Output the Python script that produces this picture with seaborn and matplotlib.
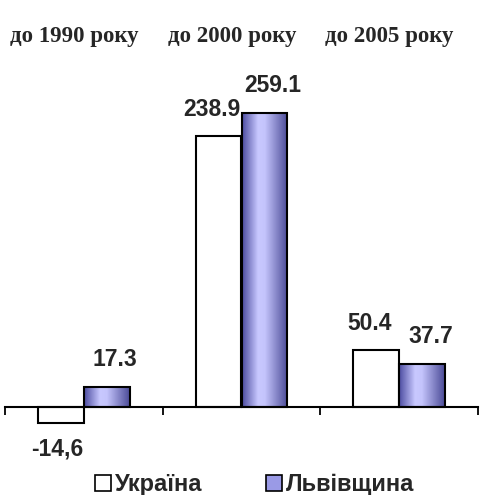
import matplotlib
matplotlib.use('Agg')
import matplotlib.pyplot as plt
import matplotlib.transforms as mtransforms
from matplotlib.patches import Patch
from matplotlib.colors import LinearSegmentedColormap
import seaborn as sns
import numpy as np
import pandas as pd

# === DATA ===
categories = ['до 1990 року', 'до 2000 року', 'до 2005 року']
series_names = ['Україна', 'Львівщина']
ukraine = [-14.6, 238.9, 50.4]
lviv = [17.3, 259.1, 37.7]
ukraine_labels = ['-14,6', '238.9', '50.4']
lviv_labels = ['17.3', '259.1', '37.7']

df = pd.DataFrame({
    'cat': categories * 2,
    'series': [series_names[0]] * 3 + [series_names[1]] * 3,
    'value': ukraine + lviv,
})

sns.set_style('white')
plt.rcParams['font.family'] = ['Liberation Sans', 'DejaVu Sans']

fig = plt.figure(figsize=(4.8, 4.95), dpi=100)
ax = fig.add_axes([5 / 480, 0.1097, 473 / 480, 0.7099])

sns.barplot(data=df, x='cat', y='value', hue='series', order=categories,
            hue_order=series_names, palette=['white', '#9a9ae6'],
            width=0.58, gap=0, edgecolor='black', linewidth=1.5,
            legend=False, ax=ax)

# gradient fill for the second series
grad_cmap = LinearSegmentedColormap.from_list(
    'lv', [(0.0, '#4c4ca0'), (0.35, '#c8c8ff'), (0.5, '#c4c4fc'), (1.0, '#4a4a96')])
grad = np.linspace(0, 1, 256).reshape(1, -1)
patches = ax.patches
for p in patches[3:6]:
    x0, y0 = p.get_x(), p.get_y()
    w, h = p.get_width(), p.get_height()
    im = ax.imshow(grad, cmap=grad_cmap, aspect='auto', zorder=2,
                   extent=[x0, x0 + w, min(y0, y0 + h), max(y0, y0 + h)])
    im.set_clip_path(p)
    p.set_facecolor('none')
    p.set_zorder(3)
ax.set_xlim(-0.5, 2.5)
ax.set_ylim(-30, 280)

# value labels
for p, txt, val in zip(patches[:3], ukraine_labels, ukraine):
    cx = p.get_x() + p.get_width() / 2
    if val < 0:
        ax.annotate(txt, (cx, val), xytext=(-3, -10), textcoords='offset points',
                    ha='center', va='top', fontsize=16.5, fontweight='bold')
    else:
        ax.annotate(txt, (cx, val), xytext=(-5, 14), textcoords='offset points',
                    ha='center', va='baseline', fontsize=16.5, fontweight='bold')
for p, txt, val in zip(patches[3:6], lviv_labels, lviv):
    cx = p.get_x() + p.get_width() / 2
    ax.annotate(txt, (cx, val), xytext=(6, 15), textcoords='offset points',
                ha='center', va='baseline', fontsize=16.5, fontweight='bold')

# axis styling
for s in ['top', 'right', 'left']:
    ax.spines[s].set_visible(False)
ax.spines['bottom'].set_position(('data', 0))
ax.spines['bottom'].set_linewidth(1.5)
ax.spines['bottom'].set_color('black')
ax.set_xticks([-0.5, 0.5, 1.5, 2.5])
ax.set_xticklabels([])
ax.tick_params(axis='x', direction='out', length=6, width=1.3, color='black', bottom=True)
ax.set_yticks([])
ax.set_xlabel('')
ax.set_ylabel('')

# category names across the top
trans = mtransforms.blended_transform_factory(ax.transData, fig.transFigure)
for i, c in enumerate(categories):
    ax.text(i - 0.06, 0.916, c, transform=trans, ha='center', va='baseline',
            fontsize=16.5, fontweight='bold', family='Liberation Serif')

handles = [Patch(facecolor='white', edgecolor='black', linewidth=1.2),
           Patch(facecolor='#9a9ae6', edgecolor='black', linewidth=1.2)]
fig.legend(handles, series_names, loc='center', bbox_to_anchor=(0.53, 0.021),
           ncol=2, frameon=False, handlelength=0.7, handleheight=0.7,
           handletextpad=0.15, columnspacing=2.7,
           prop={'size': 17, 'weight': 'bold'})

fig.savefig('out.png', dpi=100)
